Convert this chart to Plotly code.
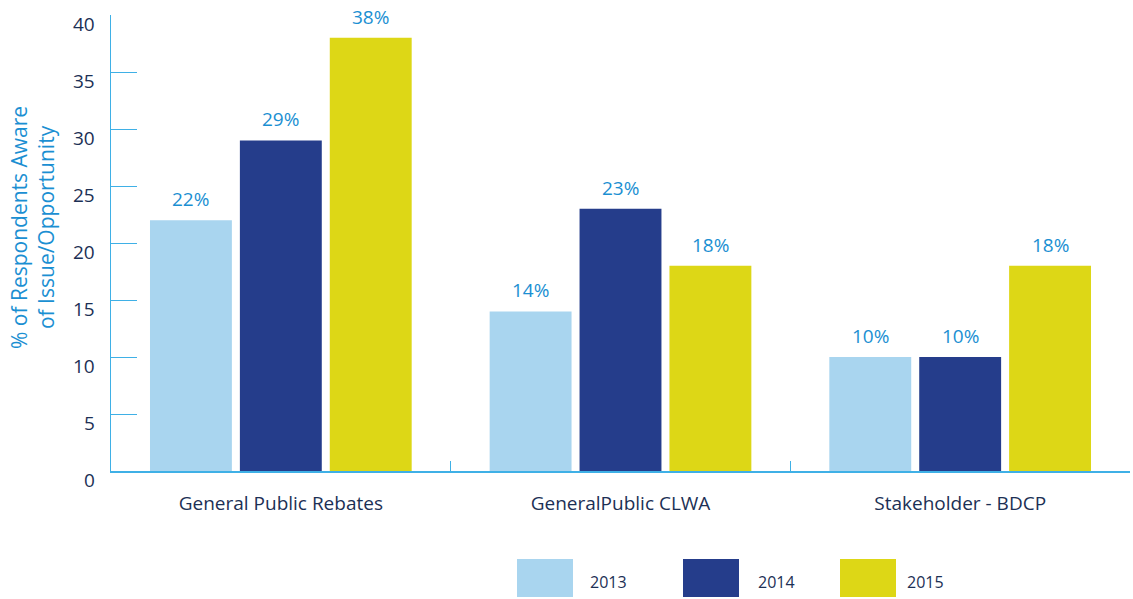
import plotly.graph_objects as go

# Survey awareness by audience group and year
categories = ["General Public Rebates", "GeneralPublic CLWA", "Stakeholder - BDCP"]
years = ["2013", "2014", "2015"]
values_2013 = [22, 14, 10]
values_2014 = [29, 23, 10]
values_2015 = [38, 18, 18]
y_ticks = [0, 5, 10, 15, 20, 25, 30, 35, 40]

series = [values_2013, values_2014, values_2015]
colors = ["#a9d5ef", "#253d8b", "#ddd716"]

FONT = "Open Sans"
NAVY = "#1c3055"
LABEL_BLUE = "#1b8fd2"
AXIS_BLUE = "#3fb0e6"

W, H = 1133, 599
L, R, T, B = 111, 3, 15, 128
BARGAP, GROUPGAP = 0.206, 0.089

x_pos = list(range(len(categories)))

fig = go.Figure()
for name, vals, col in zip(years, series, colors):
    fig.add_trace(go.Bar(x=x_pos, y=vals, name=name, marker=dict(color=col, line=dict(width=0)),
                         showlegend=False, hoverinfo="x+y"))

# value labels above each bar
slot = (1 - BARGAP) / len(series)
for i, vals in enumerate(series):
    off = (i - (len(series) - 1) / 2) * slot
    for xc, v in zip(x_pos, vals):
        fig.add_annotation(x=xc + off, y=v, xref="x", yref="y", text=f"{v}%",
                           showarrow=False, yanchor="middle", yshift=21,
                           font=dict(family=FONT, size=19, color=LABEL_BLUE))

# helpers to place pieces in pixel terms
pw, ph = W - L - R, H - T - B
def px_x(p):
    return (p - L) / pw
def px_y(p):
    return (H - B - p) / ph

# y tick labels, set slightly below their tick marks
for v in y_ticks:
    fig.add_annotation(xref="paper", yref="y", x=px_x(97), y=v, text=str(v),
                       showarrow=False, xanchor="right", yanchor="middle", yshift=-9,
                       font=dict(family=FONT, size=19, color=NAVY))

legend_items = [(517, 588), (683, 756), (840, 905)]
for (sx, tx), name, col in zip(legend_items, years, colors):
    fig.add_shape(type="rect", xref="paper", yref="paper",
                  x0=px_x(sx), x1=px_x(sx + 56), y0=px_y(597), y1=px_y(559),
                  fillcolor=col, line=dict(width=0))
    fig.add_annotation(xref="paper", yref="paper", x=px_x(tx), y=px_y(582),
                       text=name, showarrow=False, xanchor="left", yanchor="middle",
                       font=dict(family=FONT, size=16, color=NAVY))

# y-axis title
fig.add_annotation(xref="paper", yref="paper", x=px_x(33), y=px_y(228),
                   text="% of Respondents Aware<br>of Issue/Opportunity", showarrow=False,
                   textangle=-90, xanchor="center", yanchor="middle",
                   font=dict(family=FONT, size=21, color=LABEL_BLUE))

fig.update_layout(
    width=W, height=H,
    margin=dict(l=L, r=R, t=T, b=B, autoexpand=False),
    paper_bgcolor="white", plot_bgcolor="white",
    barmode="group", bargap=BARGAP, bargroupgap=GROUPGAP,
    font=dict(family=FONT, color=NAVY),
    xaxis=dict(range=[-0.5, 2.5], tickvals=x_pos, ticktext=categories, ticks="",
               showline=True, linecolor=AXIS_BLUE, linewidth=2, showgrid=False,
               zeroline=False, tickfont=dict(size=19, color=NAVY),
               ticklabelstandoff=14,
               minor=dict(tickvals=[0.5, 1.5], ticks="inside", ticklen=10,
                          tickcolor=AXIS_BLUE, tickwidth=1)),
    yaxis=dict(range=[0, 40], tickvals=y_ticks, ticks="inside", ticklen=26,
               tickcolor=AXIS_BLUE, tickwidth=1, showline=True, linecolor=AXIS_BLUE,
               linewidth=1, showgrid=False, zeroline=False, showticklabels=False),
)

fig.write_html("out.html")
